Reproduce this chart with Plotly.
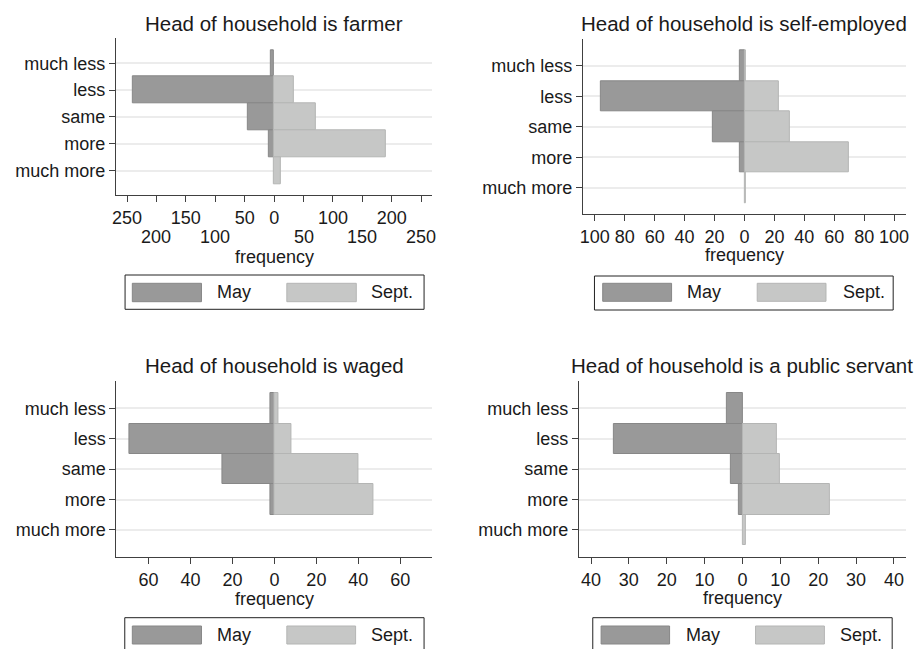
import plotly.graph_objects as go

W, H = 919, 649

categories = ["much less", "less", "same", "more", "much more"]

farmer_may = [6, 240, 45, 9, 0]
farmer_sept = [0, 33, 71, 189, 12]
self_may = [3, 96, 21, 3, 0]
self_sept = [1, 23, 30, 70, 1]
waged_may = [2, 69, 25, 2, 0]
waged_sept = [2, 8, 40, 47, 0]
public_may = [4, 34, 3, 1, 0]
public_sept = [0, 9, 10, 23, 1]

titles = ["Head of household is farmer", "Head of household is self-employed",
          "Head of household is waged", "Head of household is a public servant"]
tick_vals = [
    [-250, -200, -150, -100, -50, 0, 50, 100, 150, 200, 250],
    [-100, -80, -60, -40, -20, 0, 20, 40, 60, 80, 100],
    [-60, -40, -20, 0, 20, 40, 60],
    [-40, -30, -20, -10, 0, 10, 20, 30, 40],
]
# farmer panel: labels alternate between two rows (1 = upper, 2 = lower)
farmer_tick_row = [1, 2, 1, 2, 1, 1, 2, 1, 2, 1, 2]
legend_labels = ["May", "Sept."]

MAY_FILL, MAY_LINE = "#999999", "#878787"
SEP_FILL, SEP_LINE = "#c6c7c6", "#b4b5b4"
TXT = "#1a1a1a"
AX = "#404040"
FONT = "Liberation Sans, Arial, sans-serif"


def px(x):
    return x / W


def py(y):
    return 1 - y / H


# layout geometry (pixels)
panels = [
    dict(may=farmer_may, sept=farmer_sept, xr=269, yr=[4.905, -0.93],
         xd=(112.7, 431.7), yd=(38.3, 195.0), title_y=24, freq_y=256.7,
         leg=dict(box=(122, 275, 423.3, 309.3), s1=(129.3, 199), s2=(285, 355), sy=(283.3, 301.7),
                  t1=213, t2=368)),
    dict(may=self_may, sept=self_sept, xr=108, yr=[4.87, -0.87],
         xd=(583.3, 909.0), yd=(39.3, 214.3), title_y=24, freq_y=255,
         leg=dict(box=(595, 276, 896, 310), s1=(603.3, 672.7), s2=(759, 828.3), sy=(283.3, 301.3),
                  t1=686, t2=843)),
    dict(may=waged_may, sept=waged_sept, xr=75.3, yr=[4.9, -0.9],
         xd=(113.3, 431.7), yd=(381.0, 557.3), title_y=366, freq_y=598.8,
         leg=dict(box=(121.7, 617.7, 423.3, 660), s1=(129.3, 199), s2=(285, 354.3), sy=(626, 644),
                  t1=213, t2=368)),
    dict(may=public_may, sept=public_sept, xr=43.2, yr=[4.9, -0.9],
         xd=(579.3, 909.0), yd=(381.0, 557.3), title_y=366, freq_y=598.3,
         leg=dict(box=(593.3, 617.7, 895, 660), s1=(601.7, 670.7), s2=(757.3, 826.7), sy=(626, 644),
                  t1=685, t2=840.5)),
]

fig = go.Figure()
annotations = []
shapes = []
layout_axes = {}

for i, p in enumerate(panels):
    n = "" if i == 0 else str(i + 1)
    xa, ya = "x" + n, "y" + n
    fig.add_trace(go.Bar(
        y=categories, x=[-v if v else None for v in p["may"]], orientation="h",
        xaxis=xa, yaxis=ya, width=1.0, name=legend_labels[0],
        marker=dict(color=MAY_FILL, line=dict(color=MAY_LINE, width=1)),
        showlegend=False))
    fig.add_trace(go.Bar(
        y=categories, x=[v if v else None for v in p["sept"]], orientation="h",
        xaxis=xa, yaxis=ya, width=1.0, name=legend_labels[1],
        marker=dict(color=SEP_FILL, line=dict(color=SEP_LINE, width=1)),
        showlegend=False))

    tv = tick_vals[i]
    if i == 0:
        tt = [str(abs(v)) if r == 1 else "" for v, r in zip(tv, farmer_tick_row)]
        for v, r in zip(tv, farmer_tick_row):
            if r == 2:
                annotations.append(dict(text=str(abs(v)), xref=xa, yref="paper",
                                        x=v, y=py(236.7), xanchor="center", yanchor="middle",
                                        showarrow=False,
                                        font=dict(family=FONT, size=18, color=TXT)))
    else:
        tt = [str(abs(v)) for v in tv]
    layout_axes["xaxis" + n] = dict(
        domain=[px(p["xd"][0]), px(p["xd"][1])], anchor=ya,
        range=[-p["xr"], p["xr"]], tickmode="array", tickvals=tv, ticktext=tt,
        tickangle=0,
        showline=True, linecolor=AX, linewidth=1, ticks="outside", ticklen=6,
        tickcolor=AX, tickwidth=1, showgrid=False, zeroline=False,
        tickfont=dict(family=FONT, size=18, color=TXT), fixedrange=True)
    layout_axes["yaxis" + n] = dict(
        domain=[py(p["yd"][1]), py(p["yd"][0])], anchor=xa,
        type="category", categoryorder="array", categoryarray=categories,
        range=p["yr"], showline=True, linecolor=AX, linewidth=1,
        ticks="outside", ticklen=6, tickcolor=AX, tickwidth=1,
        showgrid=True, gridcolor="#ececec", gridwidth=1.5, zeroline=False,
        tickfont=dict(family=FONT, size=18, color=TXT), fixedrange=True)

    xc = (p["xd"][0] + p["xd"][1]) / 2
    annotations.append(dict(text=titles[i], xref="paper", yref="paper",
                            x=px(xc), y=py(p["title_y"]), xanchor="center", yanchor="middle",
                            showarrow=False, font=dict(family=FONT, size=20.5, color=TXT)))
    annotations.append(dict(text="frequency", xref="paper", yref="paper",
                            x=px(xc), y=py(p["freq_y"]), xanchor="center", yanchor="middle",
                            showarrow=False, font=dict(family=FONT, size=18, color=TXT)))

    lg = p["leg"]
    bx0, by0, bx1, by1 = lg["box"]
    shapes.append(dict(type="rect", xref="paper", yref="paper",
                       x0=px(bx0), x1=px(bx1), y0=py(by1), y1=py(by0),
                       line=dict(color="#222222", width=1), fillcolor="white", layer="above"))
    for (s0, s1), fill, line in [(lg["s1"], MAY_FILL, MAY_LINE), (lg["s2"], SEP_FILL, SEP_LINE)]:
        shapes.append(dict(type="rect", xref="paper", yref="paper",
                           x0=px(s0), x1=px(s1), y0=py(lg["sy"][1]), y1=py(lg["sy"][0]),
                           line=dict(color=line, width=1), fillcolor=fill, layer="above"))
    yc = (lg["sy"][0] + lg["sy"][1]) / 2
    for tx, lab in [(lg["t1"], legend_labels[0]), (lg["t2"], legend_labels[1])]:
        annotations.append(dict(text=lab, xref="paper", yref="paper",
                                x=px(tx), y=py(yc), xanchor="left", yanchor="middle",
                                showarrow=False, font=dict(family=FONT, size=18, color=TXT)))

fig.update_layout(
    width=W, height=H, margin=dict(l=0, r=0, t=0, b=0),
    paper_bgcolor="white", plot_bgcolor="white",
    barmode="overlay", bargap=0, showlegend=False,
    font=dict(family=FONT, size=18, color=TXT),
    annotations=annotations, shapes=shapes, **layout_axes)

fig.write_html("out.html", config={"displayModeBar": False},
               post_script="document.body.style.margin='0px';document.body.style.padding='0px';")
